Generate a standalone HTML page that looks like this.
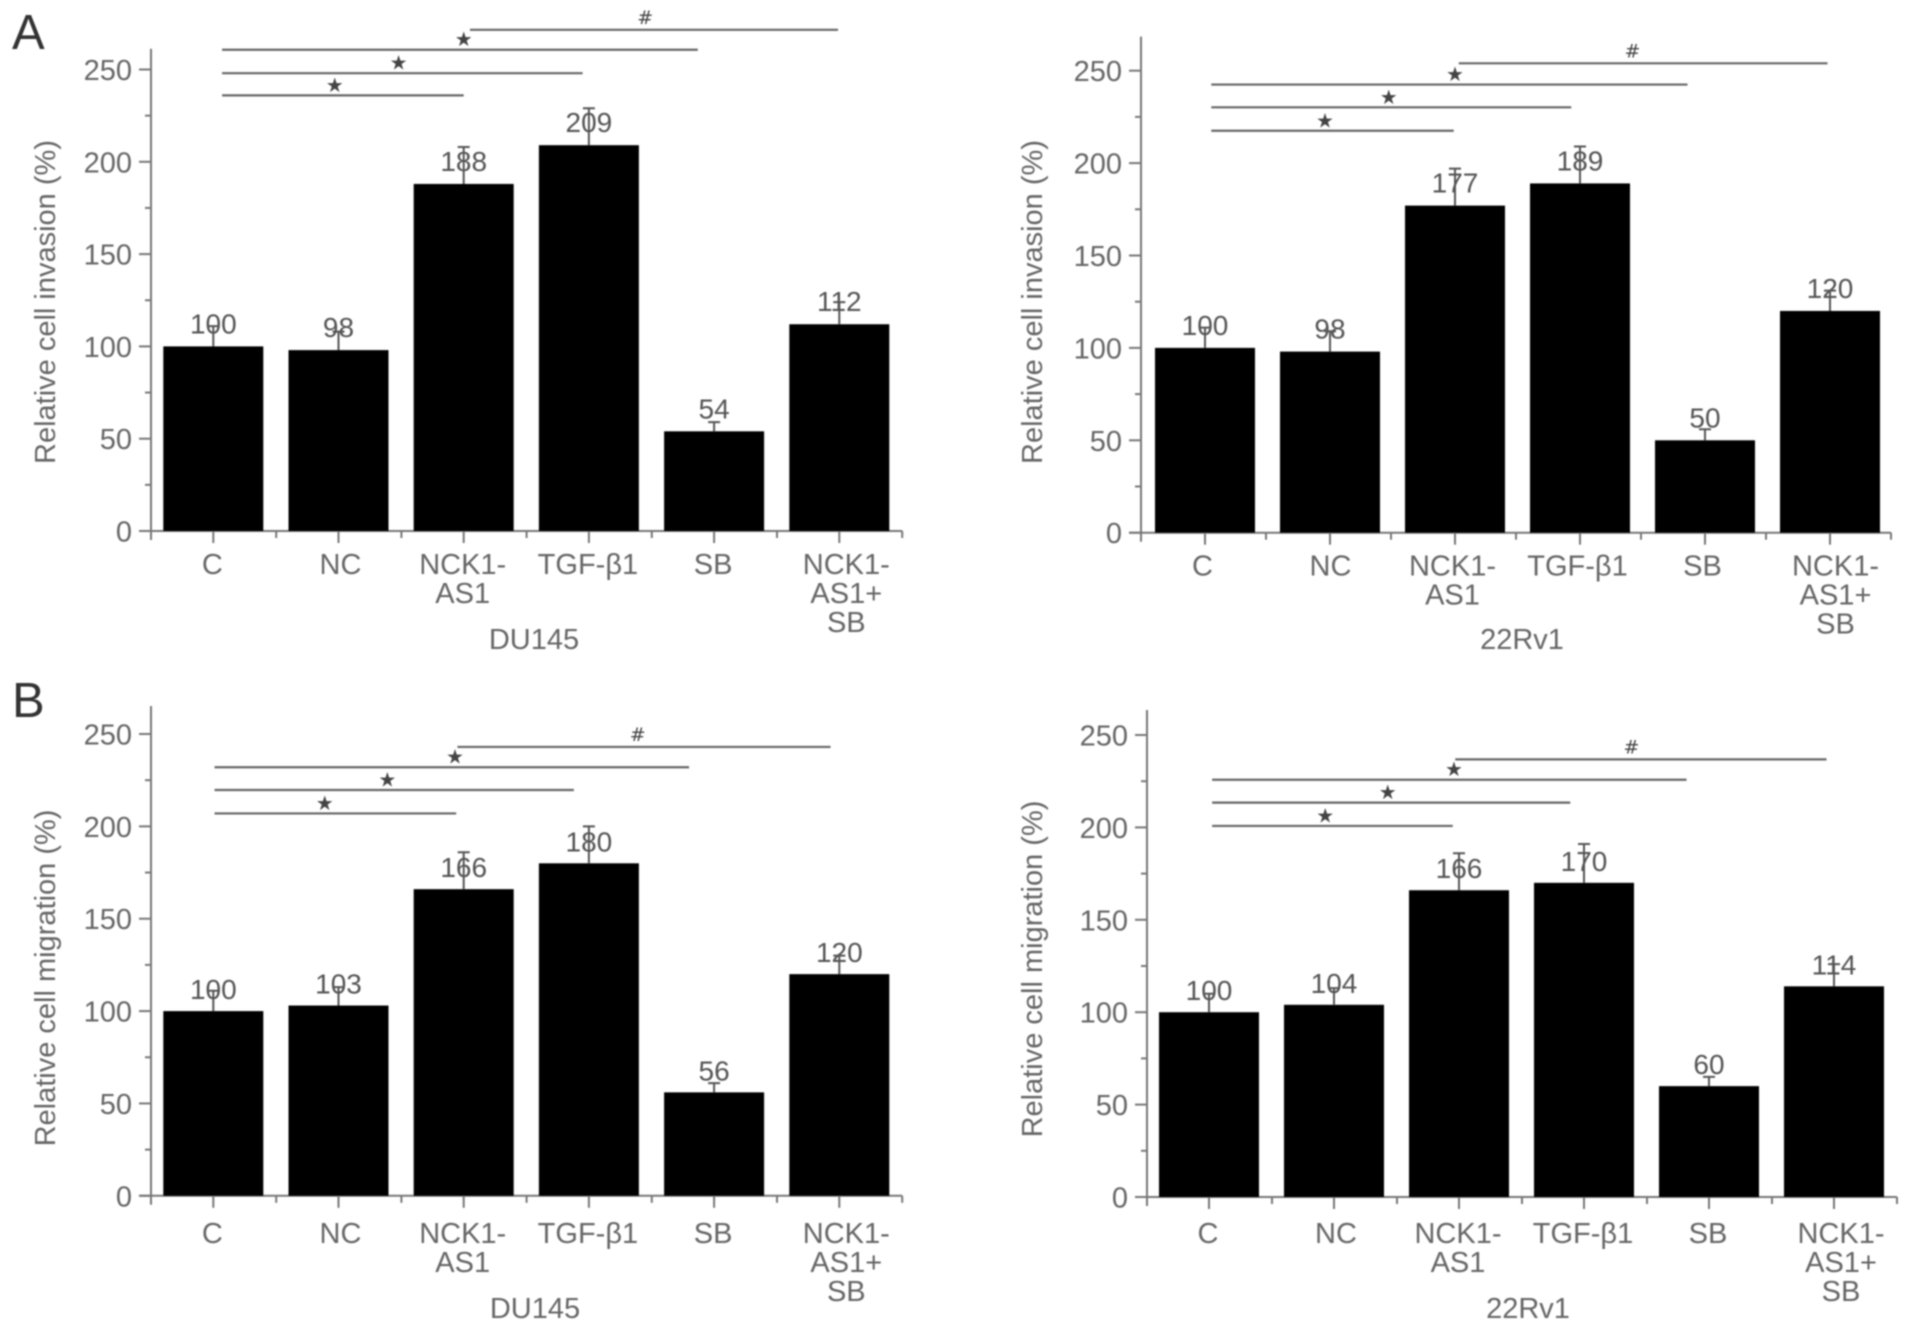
<!DOCTYPE html>
<html>
<head>
<meta charset="utf-8">
<title>Relative cell invasion and migration</title>
<style>
html,body{margin:0;padding:0;background:#fff;width:1913px;height:1330px;overflow:hidden}
svg{display:block;filter:blur(.75px)}
text{font-family:"Liberation Sans",sans-serif;fill:#666}
</style>
</head>
<body>
<svg id="figure" xmlns="http://www.w3.org/2000/svg" width="1913" height="1330" viewBox="0 0 1913 1330">
<rect width="1913" height="1330" fill="#fff"/>
<text x="12" y="49" font-size="49" style="fill:#333">A</text>
<text x="12" y="717" font-size="49" style="fill:#333">B</text>
</svg>
<script>
const categories = [['C'],['NC'],['NCK1-','AS1'],['TGF-β1'],['SB'],['NCK1-','AS1+','SB']];
const yTicks = [0,50,100,150,200,250];
const yMinorTicks = [25,75,125,175,225];

const invasionDu145Values = [100,98,188,209,54,112];
const invasionDu145Errors = [11,10,20,20,5,12];
const invasionDu145Brackets = [[0.07,2,236],[0.07,2.95,248],[0.07,3.87,260.7],[2.05,4.99,271.5]];
const invasionDu145Marks = [0.97,1.48,2,3.45];

const invasion22Rv1Values = [100,98,177,189,50,120];
const invasion22Rv1Errors = [11,11,20,20,6,11];
const invasion22Rv1Brackets = [[0.05,1.99,217.5],[0.05,2.93,230.2],[0.05,3.86,242.5],[2.03,4.98,254]];
const invasion22Rv1Marks = [0.96,1.47,2,3.42];

const migrationDu145Values = [100,103,166,180,56,120];
const migrationDu145Errors = [11,10,20,20,5,10];
const migrationDu145Brackets = [[0.01,1.94,207],[0.01,2.88,219.7],[0.01,3.8,232],[1.95,4.93,243]];
const migrationDu145Marks = [0.89,1.39,1.93,3.39];

const migration22Rv1Values = [100,104,166,170,60,114];
const migration22Rv1Errors = [10,9,20,21,5,12];
const migration22Rv1Brackets = [[0.025,1.95,200.8],[0.025,2.89,213.4],[0.025,3.82,225.8],[1.97,4.94,236.8]];
const migration22Rv1Marks = [0.93,1.43,1.96,3.38];

const panels = [
  {id:'invasion-du145',title:'Relative cell invasion (%)',group:'DU145',values:invasionDu145Values,errors:invasionDu145Errors,brackets:invasionDu145Brackets,marks:invasionDu145Marks,
   axisX:151,first:213.3,step:125.2,base:531,y250:69.5,top:48.8,titleX:55,titleY:302,groupX:534,groupY:649,labelDrop:43,valueGap:13,labelShift:-1},
  {id:'invasion-22rv1',title:'Relative cell invasion (%)',group:'22Rv1',values:invasion22Rv1Values,errors:invasion22Rv1Errors,brackets:invasion22Rv1Brackets,marks:invasion22Rv1Marks,
   axisX:1141,first:1205,step:125,base:532.7,y250:70.7,top:36.6,titleX:1042,titleY:302,groupX:1522,groupY:649,labelDrop:43,valueGap:13,labelShift:-2.5},
  {id:'migration-du145',title:'Relative cell migration (%)',group:'DU145',values:migrationDu145Values,errors:migrationDu145Errors,brackets:migrationDu145Brackets,marks:migrationDu145Marks,
   axisX:151,first:213.3,step:125.2,base:1195.8,y250:734,top:706,titleX:55,titleY:978,groupX:535,groupY:1318,labelDrop:47,valueGap:12,labelShift:-1},
  {id:'migration-22rv1',title:'Relative cell migration (%)',group:'22Rv1',values:migration22Rv1Values,errors:migration22Rv1Errors,brackets:migration22Rv1Brackets,marks:migration22Rv1Marks,
   axisX:1147,first:1209,step:125,base:1197,y250:735,top:710,titleX:1042,titleY:969,groupX:1528,groupY:1318,labelDrop:46,valueGap:12,labelShift:-1}
];

const svg = document.getElementById('figure');
const NS = 'http://www.w3.org/2000/svg';
const AXIS = '#777';

function make(tag, attrs, parent, txt){
  const el = document.createElementNS(NS, tag);
  for(const k in attrs) el.setAttribute(k, attrs[k]);
  if(txt !== undefined) el.textContent = txt;
  parent.appendChild(el);
  return el;
}

panels.forEach(function(p){
  const yScale = function(v){ return p.base - v*(p.base - p.y250)/250; };
  const xScale = function(i){ return p.first + i*p.step; };
  const g = make('g', {}, svg);
  
  

  const right = p.axisX + p.step*6;
  const yAxis = make('line', {x1:p.axisX,x2:p.axisX,y1:p.top,y2:p.base+9,stroke:AXIS,'stroke-width':2}, g);
  
  
  const xAxis = make('line', {x1:p.axisX-12,x2:right,y1:p.base,y2:p.base,stroke:AXIS,'stroke-width':2}, g);
  
  

  yTicks.forEach(function(t){
    const y = yScale(t);
    const tick = make('line', {x1:p.axisX-12,x2:p.axisX,y1:y,y2:y,stroke:AXIS,'stroke-width':2}, g);
    
    
    const label = make('text', {x:p.axisX-19,y:y+10.5,'font-size':29,'text-anchor':'end'}, g, String(t));
    
    
  });
  yMinorTicks.forEach(function(t){
    const y = yScale(t);
    const tick = make('line', {x1:p.axisX-6,x2:p.axisX,y1:y,y2:y,stroke:AXIS,'stroke-width':2}, g);
    
    
  });

  const title = make('text', {x:p.titleX,y:p.titleY,'font-size':29,'text-anchor':'middle',transform:'rotate(-90 '+p.titleX+' '+p.titleY+')'}, g, p.title);
  
  

  categories.forEach(function(lines, i){
    const cx = xScale(i);
    const barTop = yScale(p.values[i]);
    const bar = make('rect', {x:cx-50,y:barTop,width:100,height:p.base-barTop,fill:'#000'}, g);
    
    

    const errTop = yScale(p.values[i] + p.errors[i]);
    const err = make('path', {d:'M'+cx+' '+barTop+'V'+errTop+'M'+(cx-6)+' '+errTop+'H'+(cx+6),stroke:'#555','stroke-width':2,fill:'none'}, g);
    
    

    const val = make('text', {x:cx,y:barTop-p.valueGap,'font-size':28,'text-anchor':'middle',style:'fill:#555'}, g, String(p.values[i]));
    
    

    const tick = make('line', {x1:cx,x2:cx,y1:p.base,y2:p.base+12,stroke:AXIS,'stroke-width':2}, g);
    
    
    const minorX = p.axisX + p.step*(i+1);
    const minor = make('line', {x1:minorX,x2:minorX,y1:p.base,y2:p.base+7,stroke:AXIS,'stroke-width':2}, g);
    
    

    const shift = (i === 5 ? 8 : (i === 1 ? 3 : 0)) + p.labelShift;
    lines.forEach(function(line, j){
      const label = make('text', {x:cx+shift,y:p.base+p.labelDrop+j*29,'font-size':29,'text-anchor':'middle'}, g, line);
      
      
    });
  });

  p.brackets.forEach(function(b, i){
    const y = yScale(b[2]);
    const line = make('line', {x1:xScale(b[0]),x2:xScale(b[1]),y1:y,y2:y,stroke:'#666','stroke-width':2.2}, g);
    
    
    const isHash = i === 3;
    const mark = make('text', {x:xScale(p.marks[i]),y:isHash?y-6:y-3.5,'font-size':isHash?19:20,'text-anchor':'middle',style:'fill:#444;font-family:"DejaVu Sans",sans-serif'}, g, isHash?'#':'★');
    
    
  });

  const group = make('text', {x:p.groupX,y:p.groupY,'font-size':29,'text-anchor':'middle'}, g, p.group);
  
  
});
</script>
</body>
</html>
